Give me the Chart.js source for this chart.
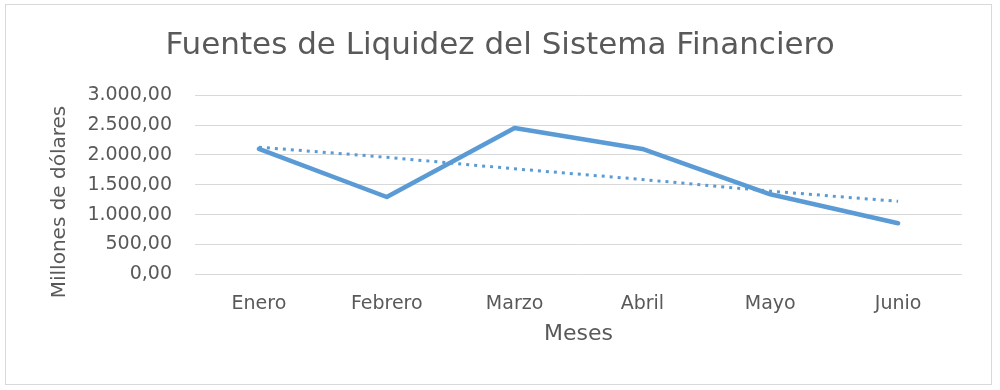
<!DOCTYPE html>
<html>
<head>
<meta charset="utf-8">
<script src="https://cdn.jsdelivr.net/npm/chart.js@4"></script>
<style>
  body { margin: 0; background: #fff; }
</style>
</head>
<body>
<canvas id="lineChartCanvas" width="1000" height="390"></canvas>
<script>
// datos
let meses = ['Enero', 'Febrero', 'Marzo', 'Abril', 'Mayo', 'Junio'];
let liquidez = [2100, 1295, 2450, 2100, 1340, 855];
let tendencia = [2130, 1960, 1767, 1588, 1393, 1222];
let yTicks = [0, 500, 1000, 1500, 2000, 2500, 3000];

let gris = '#595959';
let azul = '#5B9BD5';

let formatoNumero = function (v) {
    let entero = Math.floor(v).toString().replace(/\B(?=(\d{3})+(?!\d))/g, '.');
    return entero + ',00';
};

// marco exterior y titulo del eje vertical
let marcoPlugin = {
    id: 'marco',
    afterDraw: function (chart) {
        let ctx = chart.ctx;
        ctx.save();
        ctx.strokeStyle = '#d9d9d9';
        ctx.lineWidth = 1;
        ctx.strokeRect(5.5, 4.5, 986, 380);
        ctx.translate(60, 202);
        ctx.rotate(-Math.PI / 2);
        ctx.fillStyle = gris;
        ctx.font = '20px "DejaVu Sans"';
        ctx.textAlign = 'center';
        ctx.textBaseline = 'middle';
        ctx.fillText('Millones de dólares', 0, 0);
        ctx.restore();
    }
};

window.onload = function () {
    let ctx = document.getElementById('lineChartCanvas').getContext('2d');

    window.lineChart = new Chart(ctx, {
        type: 'line',
        data: {
            labels: meses,
            datasets: [{
                label: 'Liquidez',
                data: liquidez,
                borderColor: azul,
                borderWidth: 4.5,
                pointRadius: 0,
                tension: 0,
                borderCapStyle: 'round',
                borderJoinStyle: 'round'
            }, {
                label: 'Lineal (Liquidez)',
                data: tendencia,
                borderColor: azul,
                borderWidth: 3,
                borderDash: [3, 5],
                pointRadius: 0,
                tension: 0
            }]
        },
        options: {
            responsive: false,
            animation: false,
            layout: { padding: { top: 0, right: 38, bottom: 0, left: 38 } },
            plugins: {
                legend: { display: false },
                tooltip: { enabled: false },
                title: {
                    display: true,
                    text: 'Fuentes de Liquidez del Sistema Financiero',
                    color: gris,
                    font: { family: 'DejaVu Sans', size: 31, weight: 'normal' },
                    padding: { top: 27, bottom: 31 }
                }
            },
            scales: {
                x: {
                    offset: true,
                    grid: { display: false },
                    border: { display: false },
                    ticks: {
                        color: gris,
                        padding: 10,
                        font: { family: 'DejaVu Sans', size: 19 }
                    },
                    title: {
                        display: true,
                        text: 'Meses',
                        color: gris,
                        font: { family: 'DejaVu Sans', size: 22 },
                        padding: { top: 4, bottom: 43 }
                    },
                    afterFit: function (scale) { scale.height = 115.7; }
                },
                y: {
                    min: 0,
                    max: 3000,
                    grid: { color: '#d9d9d9', lineWidth: 1, drawTicks: false },
                    border: { display: false },
                    afterBuildTicks: function (scale) {
                        scale.ticks = yTicks.map(function (v) { return { value: v }; });
                    },
                    ticks: {
                        color: gris,
                        padding: 23,
                        font: { family: 'DejaVu Sans', size: 19 },
                        callback: function (v) { return formatoNumero(v); }
                    },
                    afterFit: function (scale) { scale.width = 157; }
                }
            }
        },
        plugins: [marcoPlugin]
    });
};
</script>
</body>
</html>
